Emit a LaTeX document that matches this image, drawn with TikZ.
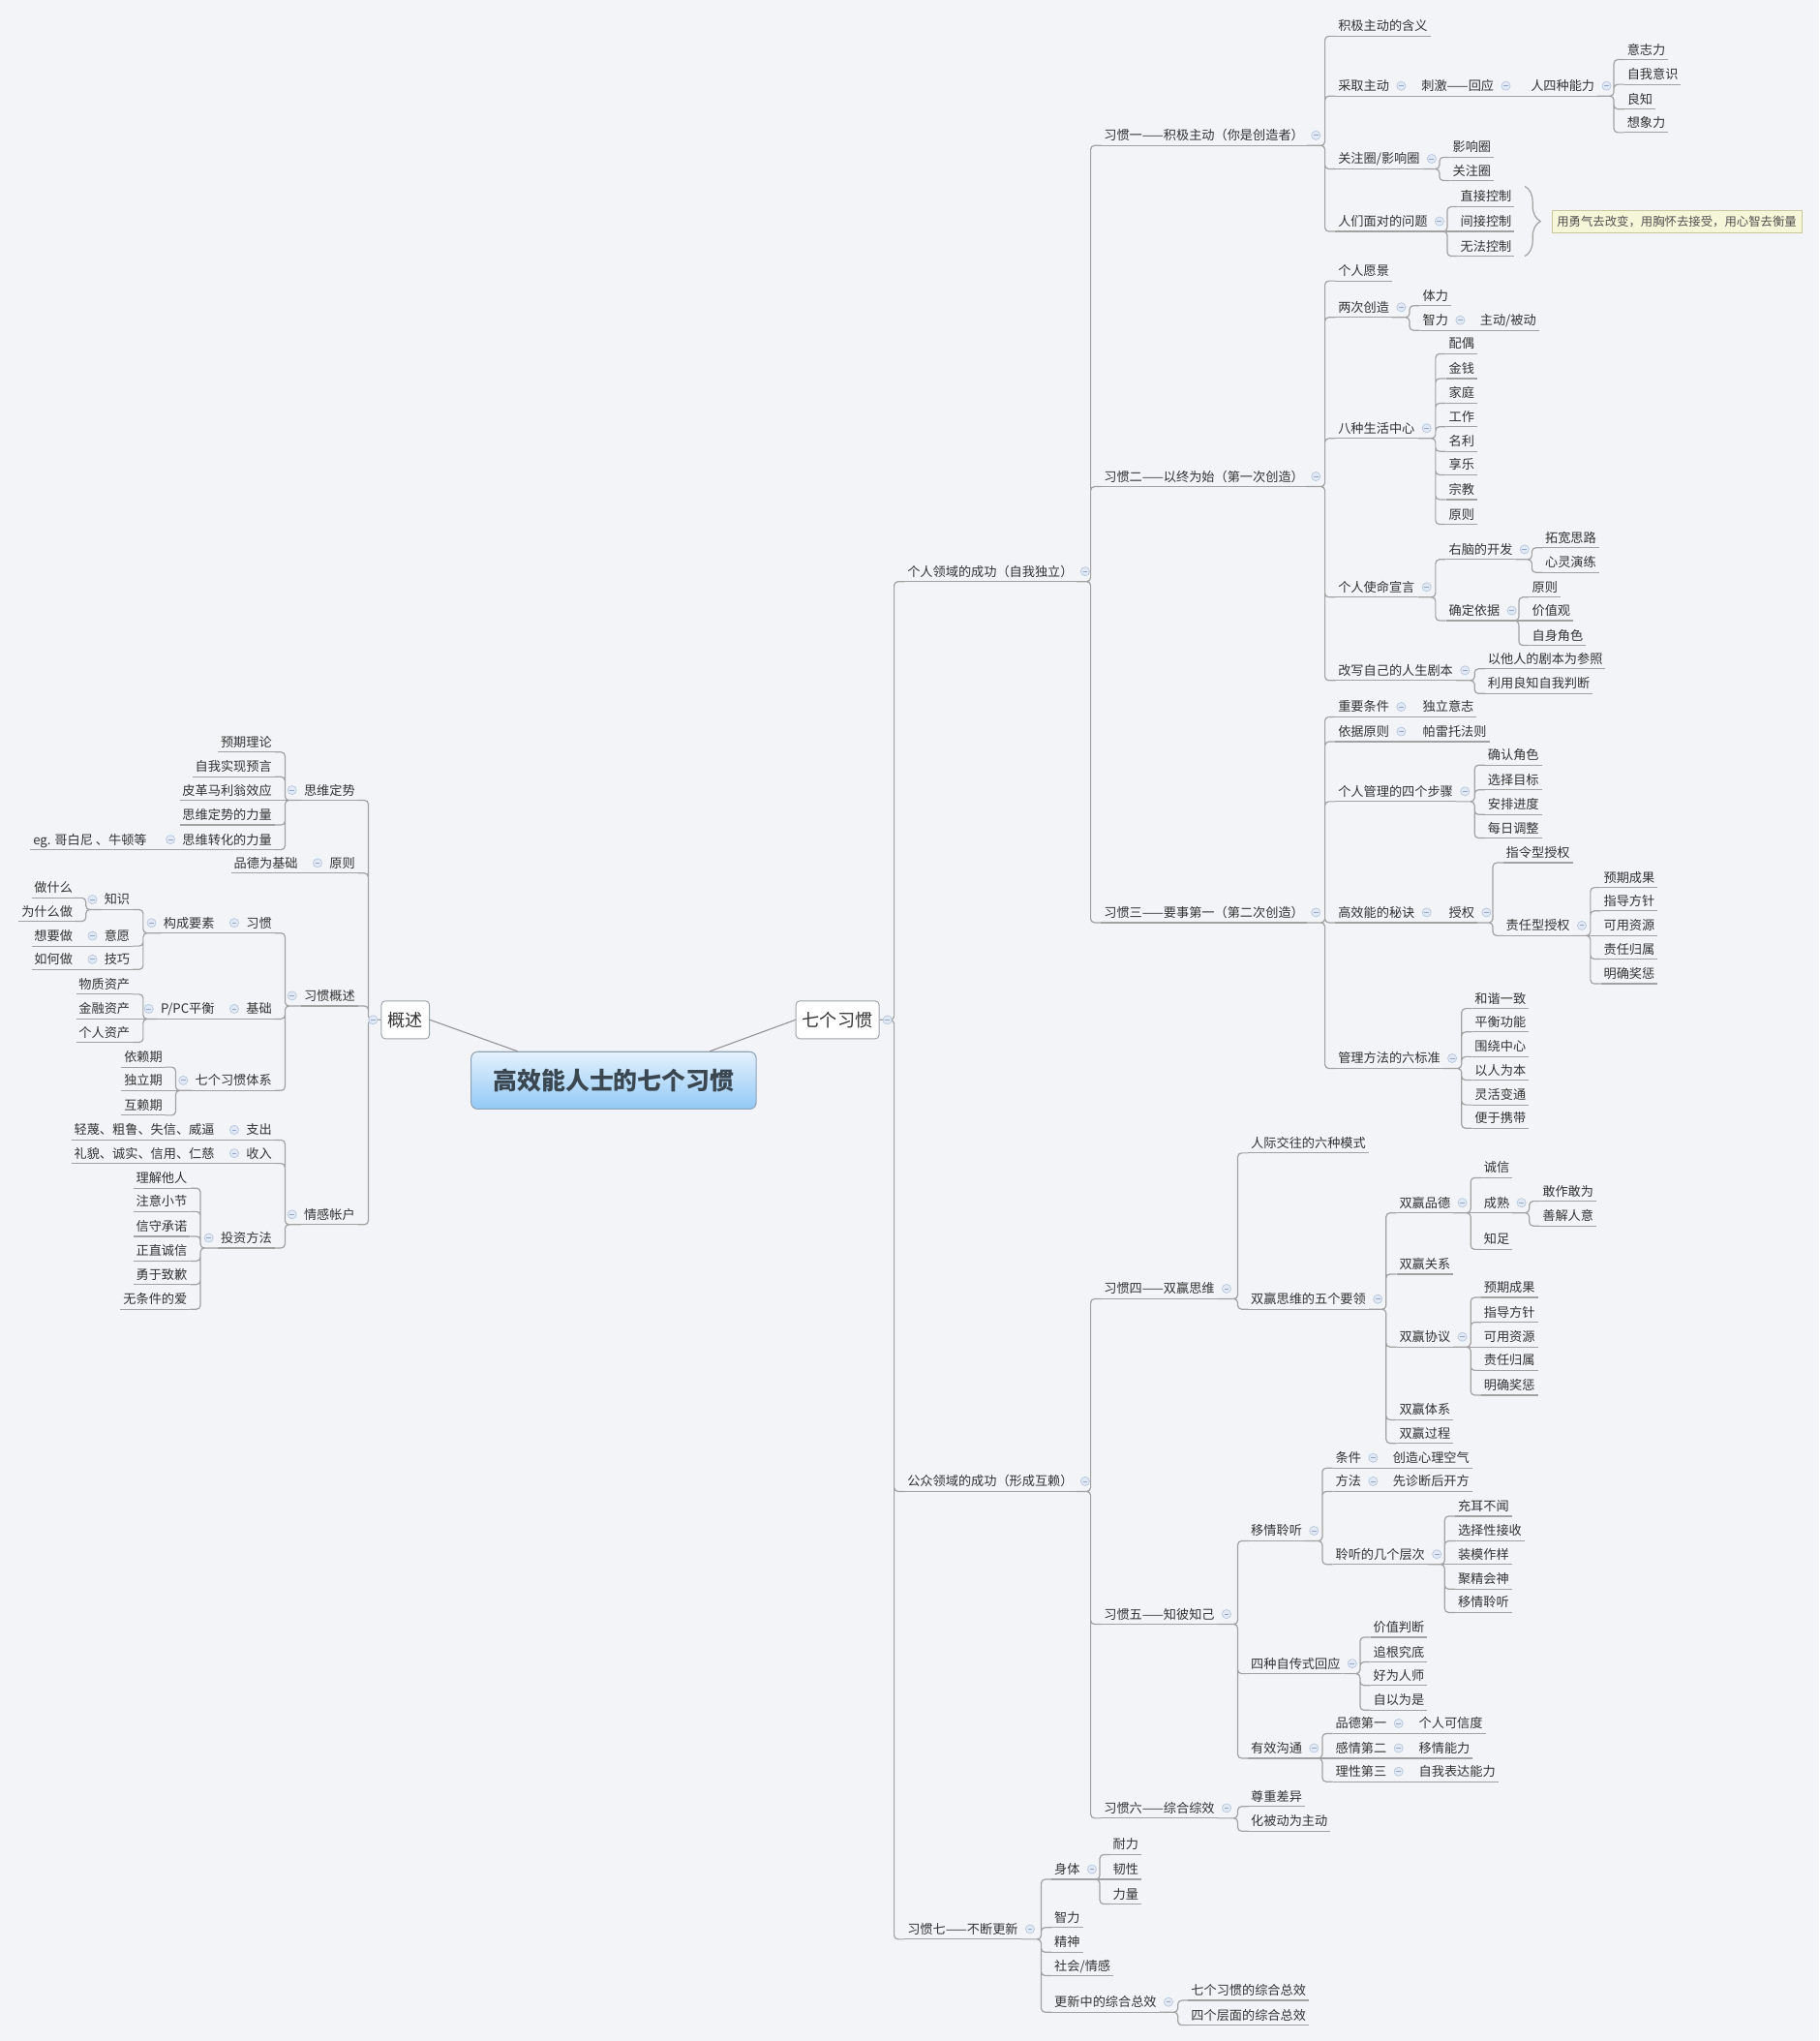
\documentclass[tikz,border=0pt]{standalone}
\usepackage{fontspec}
\setmainfont{Noto Sans CJK SC}
\usetikzlibrary{decorations.pathreplacing}

\definecolor{bg}{HTML}{F3F4F8}
\definecolor{lc}{HTML}{A2A2A2}
\definecolor{txt}{HTML}{333333}
\definecolor{fdc}{HTML}{B5C6DE}
\definecolor{fdf}{HTML}{E2E9F4}
\definecolor{fdm}{HTML}{93A8C9}
\definecolor{rtop}{HTML}{E4F1FD}
\definecolor{rbot}{HTML}{92C9F6}
\definecolor{rbd}{HTML}{90A3B6}
\definecolor{rtx}{HTML}{3A4650}
\definecolor{nbd}{HTML}{9CA2AA}
\definecolor{cof}{HTML}{F6F6D9}
\definecolor{cod}{HTML}{C7C79B}

\tikzset{
  ln/.style={draw=lc, line width=0.9pt},
  tp/.style={font=\fontsize{9.8}{11}\selectfont, text=txt, text height=7.9pt, text depth=0.5pt,
    inner xsep=2pt, inner ysep=3.4pt,
    append after command={(\tikzlastnode.south west) edge[ln] (\tikzlastnode.south east)}},
  kr/.style={tp, anchor=west},
  kl/.style={tp, anchor=east},
  rk/.style={ln, rounded corners=3pt, to path={(\tikztostart.south east) -| ([xshift=-8pt]\tikztotarget.south west) -- (\tikztotarget.south west)}},
  rs/.style={ln, to path={(\tikztostart.south east) -- (\tikztotarget.south west)}},
  rkb/.style={ln, rounded corners=3pt, to path={(\tikztostart.east) -| ([xshift=-8pt]\tikztotarget.south west) -- (\tikztotarget.south west)}},
  lk/.style={ln, rounded corners=3pt, to path={(\tikztostart.south west) -| ([xshift=8pt]\tikztotarget.south east) -- (\tikztotarget.south east)}},
  ls/.style={ln, to path={(\tikztostart.south west) -- (\tikztotarget.south east)}},
  lkb/.style={ln, rounded corners=3pt, to path={(\tikztostart.west) -| ([xshift=8pt]\tikztotarget.south east) -- (\tikztotarget.south east)}},
  fd/.style={circle, draw=fdc, fill=fdf, line width=0.5pt, minimum size=6.8pt, inner sep=0pt,
    path picture={\draw[fdm, line width=0.6pt] ([xshift=-1.8pt]path picture bounding box.center) -- ([xshift=1.8pt]path picture bounding box.center);}},
  root/.style={draw=rbd, line width=0.8pt, rounded corners=5pt, top color=rtop, bottom color=rbot,
    minimum width=219pt, minimum height=44pt, font=\fontsize{18.5}{20}\selectfont\bfseries, text=rtx},
  box/.style={draw=nbd, fill=white, rounded corners=3pt, line width=0.7pt, font=\fontsize{13.5}{15}\selectfont,
    text=txt, minimum height=29pt, inner xsep=5pt},
  note/.style={draw=cod, fill=cof, line width=0.7pt, font=\fontsize{9.2}{11}\selectfont, text=txt!85,
    inner xsep=4pt, minimum height=17pt, anchor=west},
  brc/.style={draw=lc, line width=0.9pt, decorate, decoration={brace, amplitude=12pt}},
  cn/.style={draw=lc!90!black, line width=0.8pt}
}

\begin{document}
\begin{tikzpicture}[x=1pt, y={(0pt,-1pt)}]
\fill[bg] (0,0) rectangle (1398,1568);
\useasboundingbox (0,0) rectangle (1398,1568);

% centre
\node[root] (rt) at (471.5,830) {高效能人士的七个习惯};
\node[box] (gs) at (311.5,783.5) {概述};
\node[box] (qg) at (643.5,783.5) {七个习惯};
\draw[cn] (gs.east) -- ([xshift=36pt]rt.north west);
\draw[cn] (qg.west) -- ([xshift=-36pt]rt.north east);

% right: 七个习惯
\node[kr] (s1) at (695,439) {个人领域的成功（自我独立）};
\node[kr] (s2) at (695,1138) {公众领域的成功（形成互赖）};
\node[kr] (h7) at (695,1482) {习惯七——不断更新};
\node[kr] (h1) at (846,104) {习惯一——积极主动（你是创造者）};
\node[kr] (h2) at (846,366) {习惯二——以终为始（第一次创造）};
\node[kr] (h3) at (846,701) {习惯三——要事第一（第二次创造）};

% habit 1
\node[kr] (a1) at (1026,20) {积极主动的含义};
\node[kr] (a2) at (1026,66) {采取主动};
\node[kr] (a2a) at (1090,66) {刺激——回应};
\node[kr] (a2b) at (1174,66) {人四种能力};
\node[kr] (a2b1) at (1248,38) {意志力};
\node[kr] (a2b2) at (1248,57) {自我意识};
\node[kr] (a2b3) at (1248,76) {良知};
\node[kr] (a2b4) at (1248,94) {想象力};
\node[kr] (a3) at (1026,122) {关注圈/影响圈};
\node[kr] (a3a) at (1114,113) {影响圈};
\node[kr] (a3b) at (1114,131) {关注圈};
\node[kr] (a4) at (1026,170) {人们面对的问题};
\node[kr] (a4a) at (1120,151) {直接控制};
\node[kr] (a4b) at (1120,170) {间接控制};
\node[kr] (a4c) at (1120,189) {无法控制};
\draw[brc] ([xshift=8pt]a4a.north east) -- ([xshift=8pt]a4c.south east);
\node[note] (nt) at (1192,170.5) {用勇气去改变，用胸怀去接受，用心智去衡量};

% habit 2
\node[kr] (b1) at (1026,208) {个人愿景};
\node[kr] (b2) at (1026,236) {两次创造};
\node[kr] (b2a) at (1091,227) {体力};
\node[kr] (b2b) at (1091,246) {智力};
\node[kr] (b2c) at (1135,246) {主动/被动};
\node[kr] (b3) at (1026,329) {八种生活中心};
\node[kr] (b3a) at (1111,264) {配偶};
\node[kr] (b3b) at (1111,283) {金钱};
\node[kr] (b3c) at (1111,302) {家庭};
\node[kr] (b3d) at (1111,320) {工作};
\node[kr] (b3e) at (1111,339) {名利};
\node[kr] (b3f) at (1111,357) {享乐};
\node[kr] (b3g) at (1111,376) {宗教};
\node[kr] (b3h) at (1111,395) {原则};
\node[kr] (b4) at (1026,451) {个人使命宣言};
\node[kr] (b4a) at (1111,422) {右脑的开发};
\node[kr] (b4a1) at (1185,413) {拓宽思路};
\node[kr] (b4a2) at (1185,432) {心灵演练};
\node[kr] (b4b) at (1111,469) {确定依据};
\node[kr] (b4b1) at (1175,451) {原则};
\node[kr] (b4b2) at (1175,469) {价值观};
\node[kr] (b4b3) at (1175,488) {自身角色};
\node[kr] (b5) at (1026,515) {改写自己的人生剧本};
\node[kr] (b5a) at (1141,506) {以他人的剧本为参照};
\node[kr] (b5b) at (1141,525) {利用良知自我判断};

% habit 3
\node[kr] (c1) at (1026,543) {重要条件};
\node[kr] (c1a) at (1091,543) {独立意志};
\node[kr] (c2) at (1026,562) {依据原则};
\node[kr] (c2a) at (1091,562) {帕雷托法则};
\node[kr] (c3) at (1026,608) {个人管理的四个步骤};
\node[kr] (c3a) at (1141,580) {确认角色};
\node[kr] (c3b) at (1141,599) {选择目标};
\node[kr] (c3c) at (1141,618) {安排进度};
\node[kr] (c3d) at (1141,636) {每日调整};
\node[kr] (c4) at (1026,701) {高效能的秘诀};
\node[kr] (c4a) at (1111,701) {授权};
\node[kr] (c4a1) at (1155,655) {指令型授权};
\node[kr] (c4a2) at (1155,711) {责任型授权};
\node[kr] (c4b1) at (1230,674) {预期成果};
\node[kr] (c4b2) at (1230,692) {指导方针};
\node[kr] (c4b3) at (1230,711) {可用资源};
\node[kr] (c4b4) at (1230,729) {责任归属};
\node[kr] (c4b5) at (1230,748) {明确奖惩};
\node[kr] (c5) at (1026,813) {管理方法的六标准};
\node[kr] (c5a) at (1131,767) {和谐一致};
\node[kr] (c5b) at (1131,785) {平衡功能};
\node[kr] (c5c) at (1131,804) {围绕中心};
\node[kr] (c5d) at (1131,822) {以人为本};
\node[kr] (c5e) at (1131,841) {灵活变通};
\node[kr] (c5f) at (1131,859) {便于携带};

% habits 4-6
\node[kr] (h4) at (846,990) {习惯四——双赢思维};
\node[kr] (h5) at (846,1240) {习惯五——知彼知己};
\node[kr] (h6) at (846,1389) {习惯六——综合综效};
\node[kr] (d1) at (959,878) {人际交往的六种模式};
\node[kr] (d2) at (959,998) {双赢思维的五个要领};
\node[kr] (d2a) at (1073,924) {双赢品德};
\node[kr] (d2a1) at (1138,897) {诚信};
\node[kr] (d2a2) at (1138,924) {成熟};
\node[kr] (d2a2a) at (1183,915) {敢作敢为};
\node[kr] (d2a2b) at (1183,934) {善解人意};
\node[kr] (d2a3) at (1138,952) {知足};
\node[kr] (d2b) at (1073,971) {双赢关系};
\node[kr] (d2c) at (1073,1027) {双赢协议};
\node[kr] (d2c1) at (1138,989) {预期成果};
\node[kr] (d2c2) at (1138,1008) {指导方针};
\node[kr] (d2c3) at (1138,1027) {可用资源};
\node[kr] (d2c4) at (1138,1045) {责任归属};
\node[kr] (d2c5) at (1138,1064) {明确奖惩};
\node[kr] (d2d) at (1073,1083) {双赢体系};
\node[kr] (d2e) at (1073,1101) {双赢过程};
\node[kr] (e1) at (959,1176) {移情聆听};
\node[kr] (e1a) at (1024,1120) {条件};
\node[kr] (e1a1) at (1068,1120) {创造心理空气};
\node[kr] (e1b) at (1024,1138) {方法};
\node[kr] (e1b1) at (1068,1138) {先诊断后开方};
\node[kr] (e1c) at (1024,1194) {聆听的几个层次};
\node[kr] (e1c1) at (1118,1157) {充耳不闻};
\node[kr] (e1c2) at (1118,1176) {选择性接收};
\node[kr] (e1c3) at (1118,1194) {装模作样};
\node[kr] (e1c4) at (1118,1213) {聚精会神};
\node[kr] (e1c5) at (1118,1231) {移情聆听};
\node[kr] (e2) at (959,1278) {四种自传式回应};
\node[kr] (e2a) at (1053,1250) {价值判断};
\node[kr] (e2b) at (1053,1269) {追根究底};
\node[kr] (e2c) at (1053,1287) {好为人师};
\node[kr] (e2d) at (1053,1306) {自以为是};
\node[kr] (e3) at (959,1343) {有效沟通};
\node[kr] (e3a) at (1024,1324) {品德第一};
\node[kr] (e3a1) at (1088,1324) {个人可信度};
\node[kr] (e3b) at (1024,1343) {感情第二};
\node[kr] (e3b1) at (1088,1343) {移情能力};
\node[kr] (e3c) at (1024,1361) {理性第三};
\node[kr] (e3c1) at (1088,1361) {自我表达能力};
\node[kr] (f1) at (959,1380) {尊重差异};
\node[kr] (f2) at (959,1399) {化被动为主动};

% habit 7
\node[kr] (g1) at (808,1436) {身体};
\node[kr] (g1a) at (853,1417) {耐力};
\node[kr] (g1b) at (853,1436) {韧性};
\node[kr] (g1c) at (853,1455) {力量};
\node[kr] (g2) at (808,1473) {智力};
\node[kr] (g3) at (808,1492) {精神};
\node[kr] (g4) at (808,1510) {社会/情感};
\node[kr] (g5) at (808,1538) {更新中的综合总效};
\node[kr] (g5a) at (913,1529) {七个习惯的综合总效};
\node[kr] (g5b) at (913,1548) {四个层面的综合总效};

% left: 概述
\node[kl] (o1) at (275,607) {思维定势};
\node[kl] (o1a) at (211,570) {预期理论};
\node[kl] (o1b) at (211,589) {自我实现预言};
\node[kl] (o1c) at (211,607) {皮革马利翁效应};
\node[kl] (o1d) at (211,626) {思维定势的力量};
\node[kl] (o1e) at (211,645) {思维转化的力量};
\node[kl] (o1e1) at (115,645) {eg. 哥白尼 、牛顿等};
\node[kl] (o2) at (275,663) {原则};
\node[kl] (o2a) at (231,663) {品德为基础};
\node[kl] (o3) at (275,765) {习惯概述};
\node[kl] (o3a) at (211,709) {习惯};
\node[kl] (o3a1) at (167,709) {构成要素};
\node[kl] (k1) at (102,691) {知识};
\node[kl] (k1a) at (58,682) {做什么};
\node[kl] (k1b) at (58,700) {为什么做};
\node[kl] (k2) at (102,719) {意愿};
\node[kl] (k2a) at (58,719) {想要做};
\node[kl] (k3) at (102,737) {技巧};
\node[kl] (k3a) at (58,737) {如何做};
\node[kl] (o3b) at (211,775) {基础};
\node[kl] (o3b1) at (167,775) {P/PC平衡};
\node[kl] (m1) at (102,756) {物质资产};
\node[kl] (m2) at (102,775) {金融资产};
\node[kl] (m3) at (102,793) {个人资产};
\node[kl] (o3c) at (211,830) {七个习惯体系};
\node[kl] (n1) at (127,812) {依赖期};
\node[kl] (n2) at (127,830) {独立期};
\node[kl] (n3) at (127,849) {互赖期};
\node[kl] (o4) at (275,933) {情感帐户};
\node[kl] (p1) at (211,868) {支出};
\node[kl] (p1a) at (167,868) {轻蔑、粗鲁、失信、威逼};
\node[kl] (p2) at (211,886) {收入};
\node[kl] (p2a) at (167,886) {礼貌、诚实、信用、仁慈};
\node[kl] (p3) at (211,951) {投资方法};
\node[kl] (p3a) at (146,905) {理解他人};
\node[kl] (p3b) at (146,923) {注意小节};
\node[kl] (p3c) at (146,942) {信守承诺};
\node[kl] (p3d) at (146,961) {正直诚信};
\node[kl] (p3e) at (146,979) {勇于致歉};
\node[kl] (p3f) at (146,998) {无条件的爱};

% connectors, right
\draw[rkb] (qg) to (s1) (qg) to (s2) (qg) to (h7);
\draw[rk] (s1) to (h1) (s1) to (h2) (s1) to (h3);
\draw[rk] (h1) to (a1) (h1) to (a2) (h1) to (a3) (h1) to (a4);
\draw[rs] (a2) to (a2a) (a2a) to (a2b);
\draw[rk] (a2b) to (a2b1) (a2b) to (a2b2) (a2b) to (a2b3) (a2b) to (a2b4);
\draw[rk] (a3) to (a3a) (a3) to (a3b);
\draw[rk] (a4) to (a4a) (a4) to (a4c);
\draw[rs] (a4) to (a4b);
\draw[rk] (h2) to (b1) (h2) to (b2) (h2) to (b3) (h2) to (b4) (h2) to (b5);
\draw[rk] (b2) to (b2a) (b2) to (b2b);
\draw[rs] (b2b) to (b2c);
\draw[rk] (b3) to (b3a) (b3) to (b3b) (b3) to (b3c) (b3) to (b3d) (b3) to (b3e) (b3) to (b3f) (b3) to (b3g) (b3) to (b3h);
\draw[rk] (b4) to (b4a) (b4) to (b4b);
\draw[rk] (b4a) to (b4a1) (b4a) to (b4a2);
\draw[rk] (b4b) to (b4b1) (b4b) to (b4b3);
\draw[rs] (b4b) to (b4b2);
\draw[rk] (b5) to (b5a) (b5) to (b5b);
\draw[rk] (h3) to (c1) (h3) to (c2) (h3) to (c3) (h3) to (c4) (h3) to (c5);
\draw[rs] (c1) to (c1a) (c2) to (c2a) (c4) to (c4a);
\draw[rk] (c3) to (c3a) (c3) to (c3b) (c3) to (c3c) (c3) to (c3d);
\draw[rk] (c4a) to (c4a1) (c4a) to (c4a2);
\draw[rk] (c4a2) to (c4b1) (c4a2) to (c4b2) (c4a2) to (c4b4) (c4a2) to (c4b5);
\draw[rs] (c4a2) to (c4b3);
\draw[rk] (c5) to (c5a) (c5) to (c5b) (c5) to (c5c) (c5) to (c5d) (c5) to (c5e) (c5) to (c5f);
\draw[rk] (s2) to (h4) (s2) to (h5) (s2) to (h6);
\draw[rk] (h4) to (d1) (h4) to (d2);
\draw[rk] (d2) to (d2a) (d2) to (d2b) (d2) to (d2c) (d2) to (d2d) (d2) to (d2e);
\draw[rk] (d2a) to (d2a1) (d2a) to (d2a3);
\draw[rs] (d2a) to (d2a2);
\draw[rk] (d2a2) to (d2a2a) (d2a2) to (d2a2b);
\draw[rk] (d2c) to (d2c1) (d2c) to (d2c2) (d2c) to (d2c4) (d2c) to (d2c5);
\draw[rs] (d2c) to (d2c3);
\draw[rk] (h5) to (e1) (h5) to (e2) (h5) to (e3);
\draw[rk] (e1) to (e1a) (e1) to (e1b) (e1) to (e1c);
\draw[rs] (e1a) to (e1a1) (e1b) to (e1b1);
\draw[rk] (e1c) to (e1c1) (e1c) to (e1c2) (e1c) to (e1c4) (e1c) to (e1c5);
\draw[rs] (e1c) to (e1c3);
\draw[rk] (e2) to (e2a) (e2) to (e2b) (e2) to (e2c) (e2) to (e2d);
\draw[rk] (e3) to (e3a) (e3) to (e3c);
\draw[rs] (e3) to (e3b) (e3a) to (e3a1) (e3b) to (e3b1) (e3c) to (e3c1);
\draw[rk] (h6) to (f1) (h6) to (f2);
\draw[rk] (h7) to (g1) (h7) to (g2) (h7) to (g3) (h7) to (g4) (h7) to (g5);
\draw[rk] (g1) to (g1a) (g1) to (g1c);
\draw[rs] (g1) to (g1b);
\draw[rk] (g5) to (g5a) (g5) to (g5b);

% connectors, left
\draw[lkb] (gs) to (o1) (gs) to (o2) (gs) to (o3) (gs) to (o4);
\draw[lk] (o1) to (o1a) (o1) to (o1b) (o1) to (o1d) (o1) to (o1e);
\draw[ls] (o1) to (o1c) (o1e) to (o1e1) (o2) to (o2a);
\draw[lk] (o3) to (o3a) (o3) to (o3b) (o3) to (o3c);
\draw[ls] (o3a) to (o3a1);
\draw[lk] (o3a1) to (k1) (o3a1) to (k2) (o3a1) to (k3);
\draw[lk] (k1) to (k1a) (k1) to (k1b);
\draw[ls] (k2) to (k2a) (k3) to (k3a) (o3b) to (o3b1);
\draw[lk] (o3b1) to (m1) (o3b1) to (m3);
\draw[ls] (o3b1) to (m2);
\draw[lk] (o3c) to (n1) (o3c) to (n3);
\draw[ls] (o3c) to (n2);
\draw[lk] (o4) to (p1) (o4) to (p2) (o4) to (p3);
\draw[ls] (p1) to (p1a) (p2) to (p2a);
\draw[lk] (p3) to (p3a) (p3) to (p3b) (p3) to (p3c) (p3) to (p3d) (p3) to (p3e) (p3) to (p3f);

% fold marks
\foreach \p in {s1,s2,h7,h1,h2,h3,a2,a2a,a2b,a3,a4,b2,b2b,b3,b4,b4a,b4b,b5,c1,c2,c3,c4,c4a,c4a2,c5,
  h4,h5,h6,d2,d2a,d2a2,d2c,e1,e1a,e1b,e1c,e2,e3,e3a,e3b,e3c,g1,g5}
  \node[fd] (\p-f) at ([xshift=7pt]\p.east) {};
\foreach \p in {o1,o1e,o2,o3,o3a,o3a1,k1,k2,k3,o3b,o3b1,o3c,o4,p1,p2,p3}
  \node[fd] (\p-f) at ([xshift=-7pt]\p.west) {};
\node[fd] (qg-f) at ([xshift=6pt]qg.east) {};
\node[fd] (gs-f) at ([xshift=-6pt]gs.west) {};
\end{tikzpicture}
\end{document}
